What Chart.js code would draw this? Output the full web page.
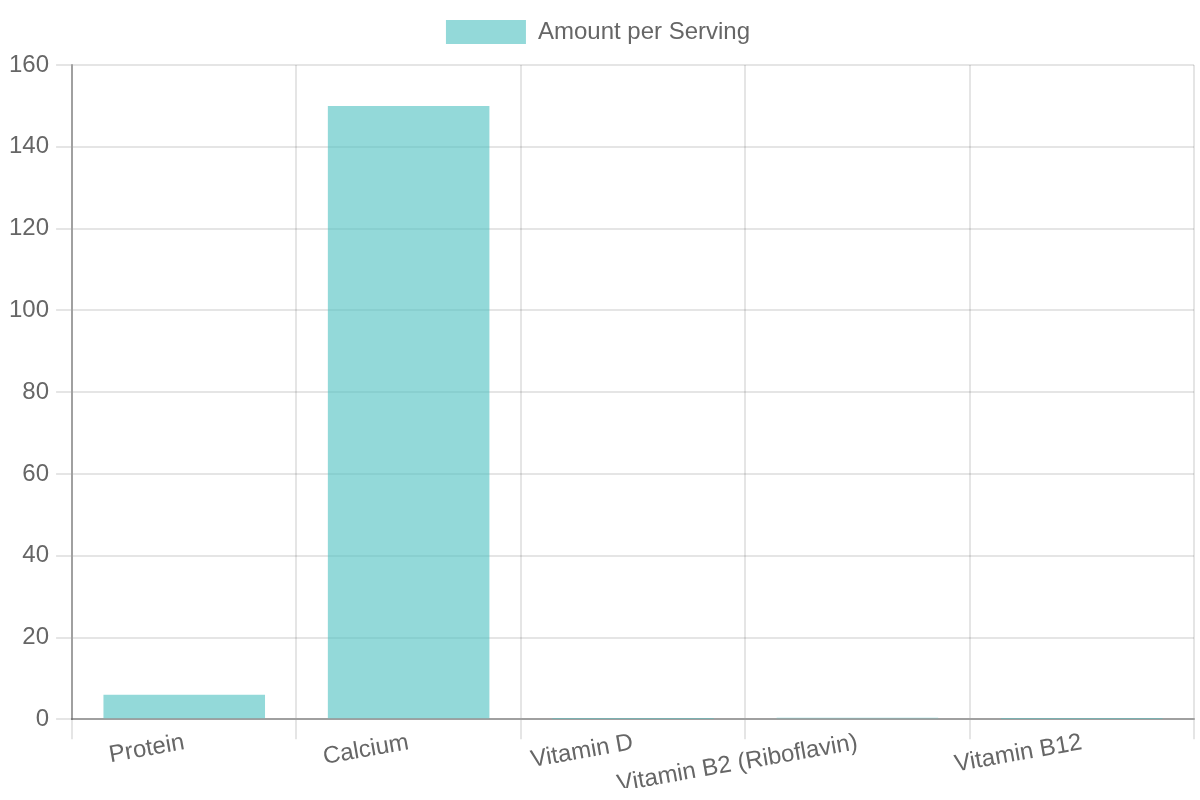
<!DOCTYPE html>
<html>
<head>
<meta charset="utf-8">
<script src="https://cdn.jsdelivr.net/npm/chart.js@4"></script>
<style>
  html, body { margin: 0; padding: 0; background: #fff; }
  #wrap { width: 1200px; height: 800px; }
</style>
</head>
<body>
<div id="wrap"><canvas id="nutritionChart"></canvas></div>
<script>
// Data
const nutrients = ['Protein', 'Calcium', 'Vitamin D', 'Vitamin B2 (Riboflavin)', 'Vitamin B12'];
const amounts = [6, 150, 0.1, 0.4, 0.05];
const seriesLabel = 'Amount per Serving';

Chart.defaults.font.family = '"Liberation Sans", Arial, Helvetica, sans-serif';
Chart.defaults.font.size = 24;
Chart.defaults.color = '#666';

// a bit more room under the legend
const legendGap = {
    id: 'legendGap',
    beforeInit(chart) {
        const fit = chart.legend.fit;
        chart.legend.fit = function () {
            fit.bind(chart.legend)();
            this.height += 11;
        };
    }
};

const ctx = document.getElementById('nutritionChart').getContext('2d');
new Chart(ctx, {
    type: 'bar',
    data: {
        labels: nutrients,
        datasets: [{
            label: seriesLabel,
            data: amounts,
            backgroundColor: 'rgba(75, 192, 192, 0.6)',
            borderWidth: 0
        }]
    },
    options: {
        responsive: true,
        maintainAspectRatio: false,
        animation: false,
        layout: { padding: { left: 2, right: 6, top: 0, bottom: 12 } },
        plugins: {
            legend: {
                labels: { boxWidth: 80, boxHeight: 24, padding: 20 }
            },
            tooltip: { enabled: false }
        },
        scales: {
            x: {
                grid: { color: 'rgba(0,0,0,0.1)', lineWidth: 2, tickLength: 20 },
                border: { color: 'rgba(0,0,0,0.3)', width: 2 },
                ticks: { padding: -11, minRotation: 10, maxRotation: 10 }
            },
            y: {
                beginAtZero: true,
                max: 160,
                ticks: { stepSize: 20, padding: 7 },
                grid: { color: 'rgba(0,0,0,0.1)', lineWidth: 2, tickLength: 16 },
                border: { color: 'rgba(0,0,0,0.3)', width: 2 }
            }
        }
    },
    plugins: [legendGap]
});
</script>
</body>
</html>
